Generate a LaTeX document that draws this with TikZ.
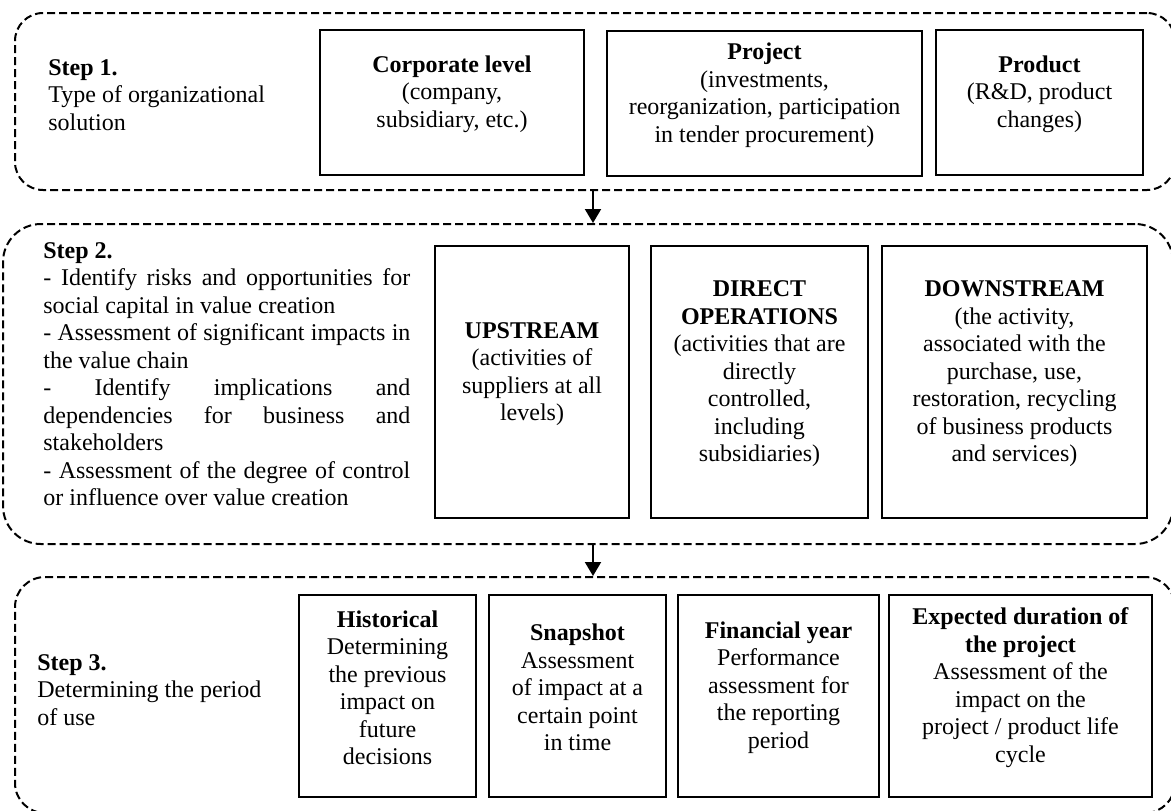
\documentclass[tikz,border=0pt]{standalone}
\usepackage{fontspec}
\setmainfont{Liberation Serif}
\usetikzlibrary{arrows.meta,fit}
\newcommand{\diagfont}{\fontsize{12}{13.75}\selectfont}
\begin{document}
\begin{tikzpicture}[x=0.5pt,y=-0.5pt,
  stage/.style={draw, line width=1pt, dash pattern=on 4pt off 2pt, inner sep=0pt},
  cell/.style={draw, line width=1.25pt, inner sep=0pt, align=center, font=\diagfont},
  lefttext/.style={inner sep=0pt, align=left, font=\diagfont},
  flow/.style={line width=1pt, -{Triangle[width=8pt,length=7pt]}}]
\useasboundingbox (0,0) rectangle (1171,810);

% dashed stage frames
\node[stage, rounded corners=14pt, fit={(15,13) (1175,190)}] (s1) {};
\node[stage, rounded corners=19pt, fit={(3,224) (1173,544)}] (s2) {};
\node[stage, rounded corners=15pt, fit={(15,577) (1175,813)}] (s3) {};

% step 1
\node[lefttext, anchor=west] (t1) at (48,95)
  {\textbf{Step 1.}\\Type of organizational\\solution};
\node[cell, fit={(320,30) (584,175)}] (corp)
  {\textbf{Corporate level}\\(company,\\subsidiary, etc.)};
\node[cell, fit={(607,31) (922,176)}] (proj)
  {\textbf{Project}\\(investments,\\reorganization, participation\\in tender procurement)};
\node[cell, fit={(936,30) (1143,175)}] (prod)
  {\textbf{Product}\\(R\&D, product\\changes)};

% step 2
\node[inner sep=0pt, anchor=north west, text width=183.5pt, align=justify, font=\diagfont] (t2) at (43,242)
  {\parindent=0pt\hyphenpenalty=10000\exhyphenpenalty=10000\tolerance=9999
   \textbf{Step 2.}\par
   - Identify risks and opportunities for\linebreak social capital in value creation\par
   - Assessment of significant impacts in\linebreak the value chain\par
   - Identify implications and\linebreak dependencies for business and\linebreak stakeholders\par
   - Assessment of the degree of control\linebreak or influence over value creation\par};
\node[cell, fit={(435,246) (629,518)}] (up)
  {\textbf{UPSTREAM}\\(activities of\\suppliers at all\\levels)};
\node[cell, fit={(651,246) (868,518)}] (direct)
  {\textbf{DIRECT}\\\textbf{OPERATIONS}\\(activities that are\\directly\\controlled,\\including\\subsidiaries)};
\node[cell, fit={(882,246) (1147,518)}] (down)
  {\textbf{DOWNSTREAM}\\(the activity,\\associated with the\\purchase, use,\\restoration, recycling\\of business products\\and services)};

% step 3
\node[lefttext, anchor=west] (t3) at (37,690)
  {\textbf{Step 3.}\\Determining the period\\of use};
\node[cell, fit={(299,595) (476,797)}] (hist)
  {\textbf{Historical}\\Determining\\the previous\\impact on\\future\\decisions};
\node[cell, fit={(489,595) (666,797)}] (snap)
  {\textbf{Snapshot}\\Assessment\\of impact at a\\certain point\\in time};
\node[cell, fit={(678,595) (879,797)}] (fin)
  {\textbf{Financial year}\\Performance\\assessment for\\the reporting\\period};
\node[cell, fit={(889,595) (1152,797)}] (exp)
  {\textbf{Expected duration of}\\\textbf{the project}\\Assessment of the\\impact on the\\project / product life\\cycle};

% arrows between stages
\coordinate (ax) at (593,0);
\draw[flow] (s1.south -| ax) -- (s2.north -| ax);
\draw[flow] (s2.south -| ax) -- (s3.north -| ax);
\end{tikzpicture}
\end{document}
